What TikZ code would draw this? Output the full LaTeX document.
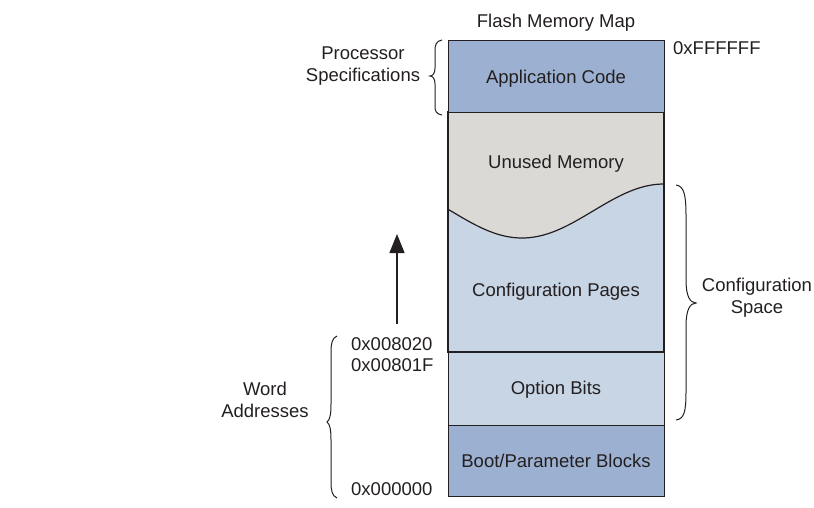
\documentclass[tikz,border=0pt]{standalone}
\usepackage{fontspec}
\setmainfont{Liberation Sans}
\usetikzlibrary{arrows.meta}
\definecolor{ink}{RGB}{35,31,32}
\definecolor{darkblue}{RGB}{156,177,209}
\definecolor{lightblue}{RGB}{200,213,229}
\definecolor{unused}{RGB}{219,217,213}
\tikzset{
  lbl/.style={inner sep=0pt, text=ink, font=\fontsize{18.5}{22}\selectfont, text height=13.2pt, text depth=0pt, align=center},
  region/.style={draw=ink, line width=1.4pt, inner sep=0pt, anchor=north west},
  bracepath/.style={draw=ink, line width=1pt},
  arrowline/.style={draw=ink, line width=1.3pt, -{Triangle[width=15pt,length=19pt]}}
}
\begin{document}
\begin{tikzpicture}[x=1pt,y=-1pt]
\useasboundingbox (0,0) rectangle (814,507);
% middle region (configuration pages + unused memory)
\fill[lightblue] (448,112) rectangle (664,352);
\fill[unused] (448,112) -- (664,112) -- (664,184)
  -- plot[domain=664:448, samples=80] (\x, {211+27*cos((\x-522)/142*180)}) -- cycle;
\draw[ink, line width=1.2pt] plot[domain=448:664, samples=80] (\x, {211+27*cos((\x-522)/142*180)});
\draw[ink, line width=1.4pt] (448,112) rectangle (664,352);
% blocks
\node[region, fill=darkblue, minimum width=216pt, minimum height=72pt] (appbox) at (448,40) {};
\node[region, fill=lightblue, minimum width=216pt, minimum height=73pt] (optbox) at (448,352) {};
\node[region, fill=darkblue, minimum width=216pt, minimum height=71pt] (bootbox) at (448,425) {};
% labels in the map
\node[lbl] (title) at (556,21) {Flash Memory Map};
\node[lbl] (app) at (556,77) {Application Code};
\node[lbl] (unusedlbl) at (556,162) {Unused Memory};
\node[lbl] (cfgpages) at (556,290) {Configuration Pages};
\node[lbl] (optbits) at (556,388) {Option Bits};
\node[lbl] (boot) at (556,461) {Boot/Parameter Blocks};
% side labels
\node[lbl, anchor=west] (top) at (673,48) {0xFFFFFF};
\node[lbl] (procspec) at (363,75) {Processor\\Specifications};
\node[lbl] (cfgspace) at (757,307) {Configuration\\Space};
\node[lbl] (wordaddr) at (265,411) {Word\\Addresses};
\node[lbl, anchor=west] (a8020) at (351,344) {0x008020};
\node[lbl, anchor=west] (a801f) at (351,365) {0x00801F};
\node[lbl, anchor=west] (a0) at (351,489) {0x000000};
% braces
\draw[bracepath] (442,40) .. controls (436,41) and (435,45) .. (435,51) -- (435,68)
  .. controls (435,73) and (433,76) .. (430,76)
  .. controls (433,76) and (435,79) .. (435,84) -- (435,106)
  .. controls (435,111) and (436,114) .. (442,115);
\draw[bracepath] (676,185) .. controls (684,186) and (686,195) .. (686,215) -- (686,280)
  .. controls (686,296) and (690,303) .. (696,303)
  .. controls (690,303) and (686,310) .. (686,326) -- (686,392)
  .. controls (686,412) and (684,419) .. (676,420);
\draw[bracepath] (337,336) .. controls (332,338) and (331,344) .. (331,352) -- (331,404)
  .. controls (331,414) and (330,420) .. (327,422)
  .. controls (330,424) and (331,430) .. (331,440) -- (331,482)
  .. controls (331,490) and (332,496) .. (337,498);
% arrow
\coordinate (arrowfoot) at (397,324);
\coordinate (arrowtip) at (397,234);
\draw[arrowline] (arrowfoot) -- (arrowtip);
\end{tikzpicture}
\end{document}
